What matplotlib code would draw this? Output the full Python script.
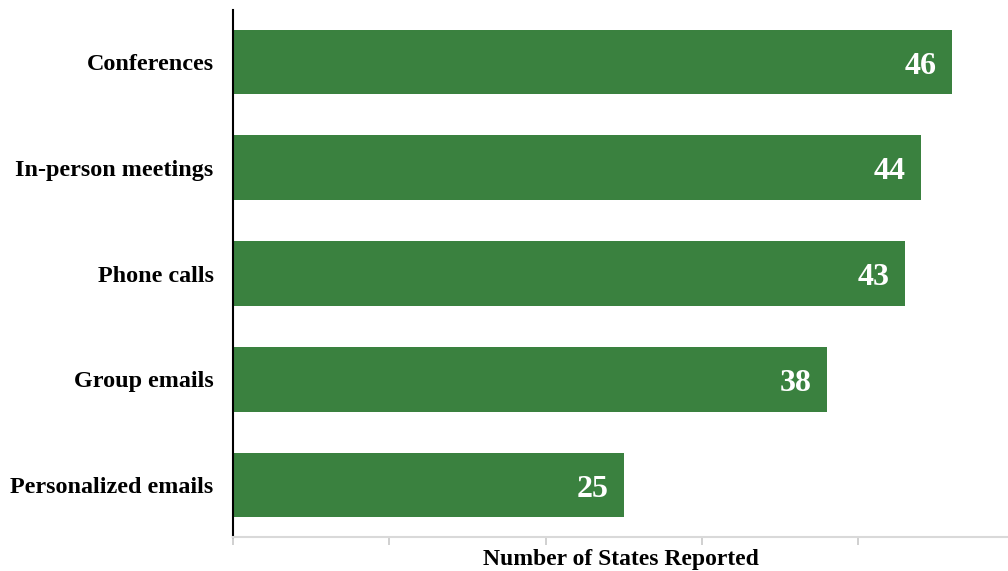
import matplotlib
matplotlib.use("Agg")
import matplotlib.pyplot as plt

# data
categories = ["Personalized emails", "Group emails", "Phone calls",
              "In-person meetings", "Conferences"]
values = [25, 38, 43, 44, 46]
ticks = [0, 10, 20, 30, 40]

GREEN = "#3a813f"

fig = plt.figure(figsize=(10.08, 5.71), dpi=100)
ax = fig.add_axes([0.2312, 0.0595, 0.7688, 0.923])

bars = ax.barh(range(len(categories)), values, height=0.61, color=GREEN)

for b, v in zip(bars, values):
    ax.annotate(str(v), xy=(b.get_width(), b.get_y() + b.get_height() / 2),
                xytext=(-11, -3), textcoords="offset points",
                ha="right", va="center", color="white",
                fontsize=23, fontweight="bold", family="Liberation Serif")

ax.set_xlim(0, 49.6)
ax.set_ylim(-0.49, len(categories) - 0.51)
ax.set_yticks(range(len(categories)))
ax.set_yticklabels(categories, fontsize=17.4, fontweight="bold",
                   family="Liberation Serif")
ax.set_xticks(ticks)
ax.set_xticklabels([])
ax.tick_params(axis="y", length=0, pad=14)
ax.tick_params(axis="x", length=6, color="#c8c8c8", width=1.2)

for s in ["top", "right"]:
    ax.spines[s].set_visible(False)
ax.spines["left"].set_color("black")
ax.spines["left"].set_linewidth(1.5)
ax.spines["bottom"].set_color("#d9d9d9")
ax.spines["bottom"].set_linewidth(1.5)

ax.set_xlabel("Number of States Reported", fontsize=17, fontweight="bold",
              family="Liberation Serif")
ax.xaxis.set_label_coords(0.5, -0.022)

fig.savefig("out.png", dpi=100)
